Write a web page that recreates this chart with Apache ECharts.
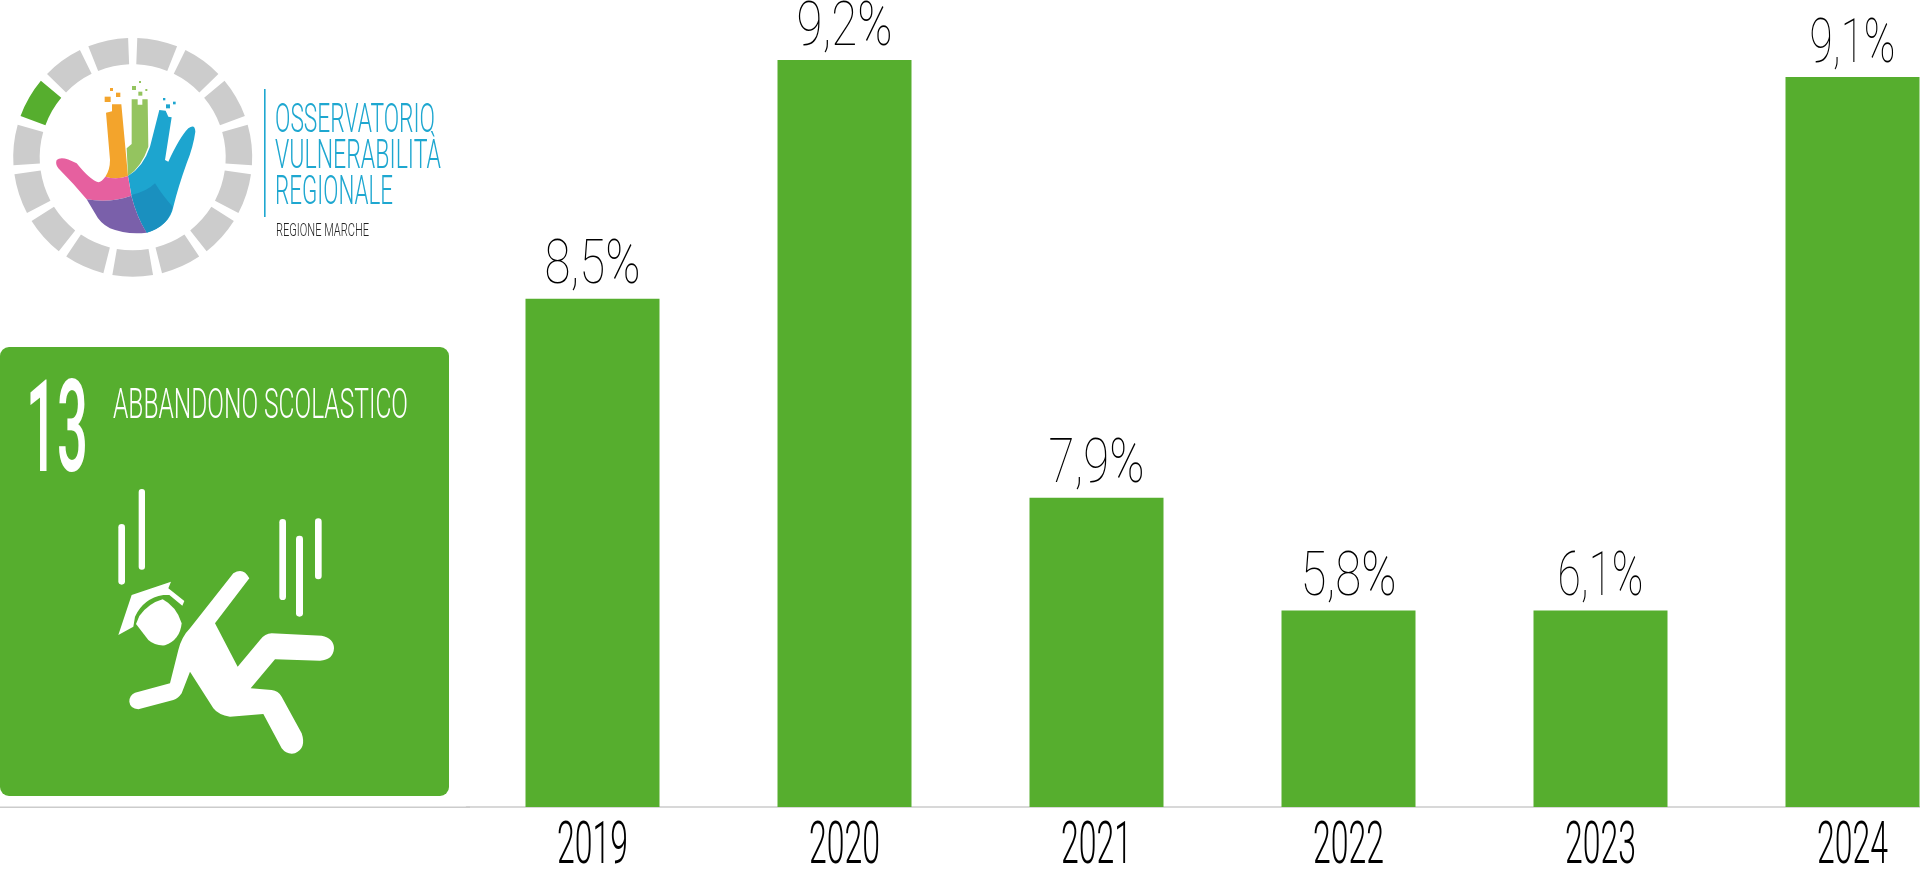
<!DOCTYPE html>
<html><head><meta charset="utf-8">
<style>html,body{margin:0;padding:0;background:#fff;overflow:hidden}#c{width:1920px;height:876px}</style>
<script src="https://cdn.jsdelivr.net/npm/echarts@6/dist/echarts.min.js"></script>
</head><body><div id="c"></div>
<script>
const years = ['2019','2020','2021','2022','2023','2024'];
const valueLabels = ['8,5%','9,2%','7,9%','5,8%','6,1%','9,1%'];
// bar lengths as drawn in the picture (the drawn bars are not proportional to their labels)
const drawnValues = [6.26,9.2,3.81,2.42,2.42,8.99];
const GREEN='#56ae2e', BLUE='#1ea7d0', INK='#000', THIN='Roboto';

const ctx=document.createElement('canvas').getContext('2d');
function fit(text,size,width,weight){ctx.font=(weight||100)+' '+size+'px '+THIN;return width/ctx.measureText(text).width;}
function txt(text,cx,midY,size,width,color,weight,align){
  return {type:'text',x:cx,y:midY,scaleX:fit(text,size,width,weight),z:5,silent:true,
    style:{text,fill:color,fontFamily:THIN,fontSize:size,fontWeight:weight||100,align:align||'center',verticalAlign:'middle'}};
}
const ring=[];
for(let k=0;k<15;k++){
  const a=180+24*k, s=(a-90-9.8)*Math.PI/180, e=(a-90+9.8)*Math.PI/180;
  ring.push({type:'sector',shape:{cx:132.7,cy:157.3,r0:93,r:119.5,startAngle:s,endAngle:e},
    style:{fill:k===5?GREEN:'#cccccc'},silent:true});
}
const rect=(x,y,w,h,fill,r)=>({type:'rect',shape:{x,y,width:w,height:h,r:r||0},style:{fill},silent:true});
let pathCount=0;
function P(d,fill){
  const name='shapeP'+(pathCount++);
  echarts.graphic.registerShape(name,echarts.graphic.extendPath(d));
  return {type:name,style:{fill},silent:true};
}
const hand=[
 P('M318 278L336 274L336 253L364 253L384 468Q350 480 316 470Q330 450 330 420Z','#f3a42c'),
 P('M380 385L395 372L395 238L413 238L413 254L427 254L427 238L443 238L445 380Q425 440 384 468Z','#94c45f'),
 P('M478 270L497 272L505 290L515 292L495 420L505 425Q540 350 565 325Q585 310 586 335Q580 380 560 430Q535 500 520 560Q510 615 440 638Q410 590 394 525L384 468Q430 440 450 380Z','#1da5cf'),
 P('M394 525Q440 515 465 490Q490 530 518 560Q505 620 440 638Q410 590 394 525Z','#1a90bf'),
 P('M170 420Q185 405 230 430Q270 480 295 487Q305 485 316 470Q350 480 384 468L394 527Q330 550 260 538Q220 490 175 445Q165 432 170 420Z','#e6609f'),
 P('M260 538Q330 550 394 527Q410 590 440 638Q380 645 330 625Q300 610 285 580Z','#7a60aa'),
 rect(314,230,18,16,'#f3a42c'),rect(348,218,13,13,'#f3a42c'),rect(330,204,9,9,'#f3a42c'),
 rect(396,198,12,12,'#94c45f'),rect(415,215,12,12,'#94c45f'),rect(417,183,6,6,'#94c45f'),rect(436,207,6,6,'#94c45f'),
 rect(498,253,12,12,'#1da5cf'),rect(519,245,8,8,'#1da5cf'),rect(489,234,7,7,'#1da5cf')
];
const icon=[
 rect(355,552,20,182,'#fff',10),rect(416,447,19,242,'#fff',9),rect(838,537,20,243,'#fff',10),rect(888,587,21,243,'#fff',10),rect(945,535,20,183,'#fff',10),
 P('M355 885L395 765L513 725L505 745L553 783L547 797L508 765L490 765Q430 775 405 830L400 860Z','#fff'),
 P('M418 828Q445 790 488 778Q530 800 545 850Q540 900 495 916Q465 918 445 900L408 852Z','#fff'),
 P('M700 700Q730 680 748 715L645 850L713 980L780 900Q795 880 815 880L965 887Q1002 895 1002 925Q1000 960 960 962L825 958L752 1045L815 1050Q835 1052 845 1070L905 1180Q920 1225 885 1240Q860 1245 845 1225L790 1122L690 1130Q655 1125 640 1105L570 995L545 1060Q535 1075 520 1080L415 1108Q390 1105 388 1085Q388 1065 405 1058L510 1030L535 930Q545 890 570 865Z','#fff')
];
const graphic=[
 {type:'group',silent:true,children:ring},
 {type:'group',x:0,y:20,scaleX:1/3,scaleY:1/3,children:hand},
 rect(264,89,1.6,128,BLUE),
 txt('OSSERVATORIO',275,122,40,160,BLUE,300,'left'),
 txt('VULNERABILITÀ',275,158,40,166,BLUE,300,'left'),
 txt('REGIONALE',275,194,40,118,BLUE,300,'left'),
 txt('REGIONE MARCHE',276,231,19,93,'#222',300,'left'),
 rect(0,347,449,449,GREEN,9),
 txt('13',57,439,128,62,'#fff',500),
 txt('ABBANDONO SCOLASTICO',113,407,42,295,'#fff',300,'left'),
 {type:'group',x:0,y:340,scaleX:1/3,scaleY:1/3,children:icon},
 rect(0,806.5,470,1.5,'#cccccc')
];

const chart=echarts.init(document.getElementById('c'),null,{width:1920,height:876});
chart.setOption({
 animation:false,backgroundColor:'#fff',
 grid:{left:466.5,top:60,width:1512,height:747,outerBoundsMode:'none'},
 xAxis:{type:'category',data:years,axisTick:{show:false},axisLabel:{show:false},
   axisLine:{show:true,lineStyle:{color:'#cccccc',width:1.5}}},
 yAxis:{type:'value',min:0,max:9.2,show:false,splitLine:{show:false}},
 graphic,
 series:[
  {type:'bar',data:drawnValues,barWidth:134,itemStyle:{color:GREEN},silent:true,z:2},
  {type:'custom',data:drawnValues.map((v,i)=>[i,v]),silent:true,z:4,clip:false,
   renderItem(params,api){
    const i=params.dataIndex, p=api.coord([i,api.value(1)]), b=api.coord([i,0]);
    const v=valueLabels[i], y=years[i], w=v.includes('1')?86:96;
    return {type:'group',children:[
      {type:'text',x:p[0],y:p[1]-31,scaleX:fit(v,62,w),style:{text:v,fill:INK,fontFamily:THIN,fontSize:62,fontWeight:100,align:'center',verticalAlign:'middle'}},
      {type:'text',x:b[0],y:b[1]+40.5,scaleX:fit(y,60,71,300),style:{text:y,fill:INK,fontFamily:THIN,fontSize:60,fontWeight:300,align:'center',verticalAlign:'middle'}}
    ]};
   },
   encode:{x:0,y:1}}
 ]
});
</script></body></html>
